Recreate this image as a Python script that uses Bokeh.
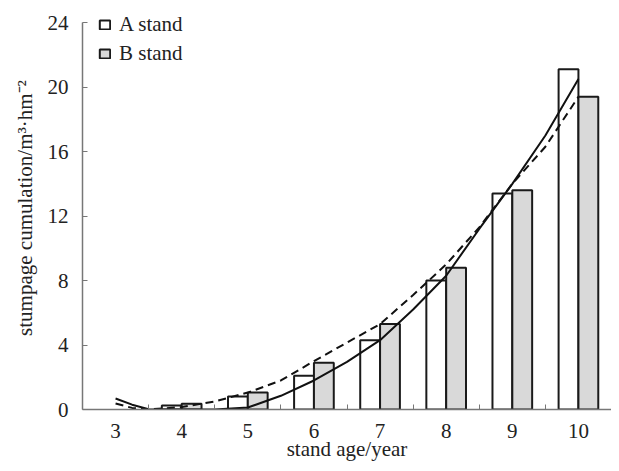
from bokeh.plotting import figure
from bokeh.models import (ColumnDataSource, FixedTicker, Legend, LegendItem, Range1d,
                          CDSView, BooleanFilter)
from bokeh.transform import dodge
from bokeh.embed import file_html
from bokeh.resources import INLINE

# ---- data ----
ages = [3, 4, 5, 6, 7, 8, 9, 10]
stand_a = [0.0, 0.25, 0.8, 2.1, 4.3, 8.0, 13.4, 21.1]
stand_b = [0.0, 0.35, 1.05, 2.9, 5.3, 8.8, 13.6, 19.4]

fit_a_x = [3.0, 3.25, 3.5, 4.0, 4.5, 5.0, 5.5, 6.0, 6.5, 7.0, 7.5, 8.0, 8.5, 9.0, 9.5, 10.0]
fit_a_y = [0.68, 0.3, 0.02, 0.0, 0.0, 0.12, 0.85, 1.8, 2.95, 4.3, 6.2, 8.3, 11.2, 14.0, 17.0, 20.5]
fit_b_x = [3.0, 3.25, 3.5, 4.0, 4.5, 5.0, 5.5, 6.0, 6.5, 7.0, 7.5, 8.0, 8.5, 9.0, 9.5, 10.0]
fit_b_y = [0.37, 0.1, 0.0, 0.15, 0.5, 1.05, 1.8, 3.0, 4.15, 5.3, 7.1, 9.0, 11.3, 14.0, 16.3, 19.4]

y_ticks = [0, 4, 8, 12, 16, 20, 24]
x_minor = [3.5, 4.5, 5.5, 6.5, 7.5, 8.5, 9.5, 10.5]

FONT = "Liberation Serif"

src = ColumnDataSource(dict(age=ages, a=stand_a, b=stand_b))
view_a = CDSView(filter=BooleanFilter([v > 0 for v in stand_a]))
view_b = CDSView(filter=BooleanFilter([v > 0 for v in stand_b]))

# y range runs a little past 24 so the legend (which sits above the 24 tick) is not clipped;
# the axis itself is bounded to 0..24
p = figure(width=611, height=463, output_backend="svg", toolbar_location=None,
           x_range=Range1d(2.5, 10.5), y_range=Range1d(0, 25),
           min_border_left=82, min_border_right=0, min_border_top=6, min_border_bottom=54)
p.outline_line_color = None
p.grid.grid_line_color = None
p.background_fill_color = "white"

ra = p.vbar(x=dodge("age", -0.15, range=p.x_range), top="a", width=0.3, source=src, view=view_a,
            fill_color="white", line_color="#1a1a1a", line_width=2)
rb = p.vbar(x=dodge("age", 0.15, range=p.x_range), top="b", width=0.3, source=src, view=view_b,
            fill_color="#d9d9d9", line_color="#1a1a1a", line_width=2)

p.line(fit_a_x, fit_a_y, line_color="#111111", line_width=2)
p.line(fit_b_x, fit_b_y, line_color="#111111", line_width=2, line_dash="8 5")

# axes
xa = p.xaxis[0]
xa.ticker = FixedTicker(ticks=ages, minor_ticks=x_minor)
xa.major_tick_in = 0
xa.major_tick_out = 0
xa.minor_tick_in = 5
xa.minor_tick_out = 0
xa.minor_tick_line_color = "#777777"
xa.axis_line_color = "#777777"
xa.axis_line_width = 1.5
xa.major_label_standoff = 14
xa.axis_label = "stand age/year"
xa.axis_label_standoff = -4

ya = p.yaxis[0]
ya.ticker = FixedTicker(ticks=y_ticks)
ya.bounds = (0, 24)
ya.major_tick_in = 5
ya.major_tick_out = 0
ya.major_tick_line_color = "#777777"
ya.minor_tick_line_color = None
ya.axis_line_color = "#777777"
ya.axis_line_width = 1.5
ya.major_label_standoff = 14
ya.axis_label = "stumpage cumulation/m\u00b3\u00b7hm\u207b\u00b2"
ya.axis_label_standoff = 8

for ax in (xa, ya):
    ax.major_label_text_font = FONT
    ax.major_label_text_font_size = "21px"
    ax.major_label_text_color = "#222222"
    ax.axis_label_text_font = FONT
    ax.axis_label_text_font_size = "21px"
    ax.axis_label_text_font_style = "normal"
    ax.axis_label_text_color = "#222222"

legend = Legend(items=[LegendItem(label="A stand", renderers=[ra]),
                       LegendItem(label="B stand", renderers=[rb])],
                location=(16, 343))
legend.border_line_color = None
legend.background_fill_alpha = 0
legend.padding = 0
legend.margin = 0
legend.spacing = 4
legend.glyph_width = 13
legend.glyph_height = 11
legend.label_standoff = 8
legend.label_text_font = FONT
legend.label_text_font_size = "21px"
legend.label_text_color = "#222222"
p.add_layout(legend)

open("out.html", "w").write(file_html(p, INLINE))
